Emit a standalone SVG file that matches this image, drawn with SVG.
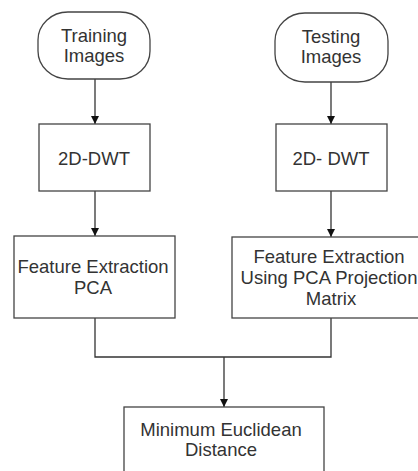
<svg xmlns="http://www.w3.org/2000/svg" width="418" height="471" viewBox="0 0 418 471">
<style>
.n{fill:#fff;stroke:#444;stroke-width:1.3}
.t{font-family:"Liberation Sans",Arial,sans-serif;font-size:18.5px;fill:#333;text-anchor:middle}
.c{fill:none;stroke:#333;stroke-width:1.3}
</style>
<defs>
<marker id="ah" viewBox="0 0 10 10" refX="10" refY="5" markerWidth="11" markerHeight="8" markerUnits="userSpaceOnUse" orient="auto">
<path d="M0,0 L10,5 L0,10 Z" fill="#111"/>
</marker>
</defs>
<rect width="418" height="471" fill="#fff"/>
<g id="connectors">
<line class="c" x1="95" y1="79" x2="95" y2="124" marker-end="url(#ah)"/>
<line class="c" x1="95" y1="191" x2="95" y2="236" marker-end="url(#ah)"/>
<line class="c" x1="331" y1="82" x2="331" y2="124" marker-end="url(#ah)"/>
<line class="c" x1="331" y1="191" x2="331" y2="237" marker-end="url(#ah)"/>
<polyline class="c" points="95,318 95,357 331,357 331,318"/>
<line class="c" x1="224" y1="357" x2="224" y2="407" stroke-width="2" marker-end="url(#ah)"/>
</g>
<g id="training">
<rect class="n" x="38" y="12" width="112" height="67" rx="30" ry="28"/>
<text class="t" x="94" y="42">Training</text>
<text class="t" x="94" y="62">Images</text>
</g>
<g id="testing">
<rect class="n" x="275" y="13" width="113" height="69" rx="30" ry="28"/>
<text class="t" x="331" y="43">Testing</text>
<text class="t" x="331" y="63">Images</text>
</g>
<g id="dwt-left">
<rect class="n" x="39" y="124" width="111" height="67"/>
<text class="t" x="94" y="165">2D-DWT</text>
</g>
<g id="dwt-right">
<rect class="n" x="276" y="124" width="111" height="67"/>
<text class="t" x="331" y="165">2D- DWT</text>
</g>
<g id="fe-pca">
<rect class="n" x="14" y="236" width="161" height="82"/>
<text class="t" x="93" y="273">Feature Extraction</text>
<text class="t" x="93" y="294">PCA</text>
</g>
<g id="fe-proj">
<rect class="n" x="232" y="237" width="198" height="81"/>
<text class="t" x="329" y="263">Feature Extraction</text>
<text class="t" x="329" y="284">Using PCA Projection</text>
<text class="t" x="331" y="305">Matrix</text>
</g>
<g id="min-dist">
<rect class="n" x="124" y="407" width="200" height="80"/>
<text class="t" x="221" y="436">Minimum Euclidean</text>
<text class="t" x="221" y="456">Distance</text>
</g>
</svg>
